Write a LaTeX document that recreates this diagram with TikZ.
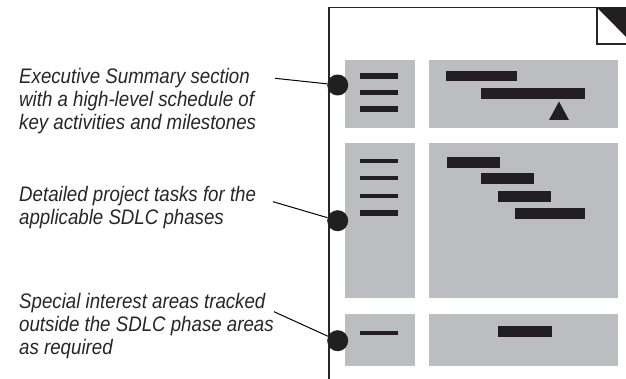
\documentclass[tikz,border=0pt]{standalone}
\usepackage{fontspec}
\setmainfont[FakeStretch=0.89]{Liberation Sans}
\usetikzlibrary{positioning}
\definecolor{panelgray}{RGB}{188,189,193}
\definecolor{inkblack}{RGB}{35,31,32}

\begin{document}
\begin{tikzpicture}[
  x=1pt, y=-1pt,
  % === Shape styles ===
  panel/.style={
    fill=panelgray, draw=none, inner sep=0pt, anchor=north west
  },
  bar/.style={fill=inkblack},
  listline/.style={inkblack, line width=4.5pt},
  dot/.style={circle, fill=inkblack, inner sep=0pt, minimum size=21pt},
  % === Line styles ===
  frame/.style={black!85, line width=1.4pt},
  leader/.style={black, line width=1pt},
  % === Text styles ===
  callout/.style={
    font=\fontsize{21}{23}\selectfont\itshape, text=black!85,
    align=left, anchor=north west, inner sep=0pt
  },
]
\useasboundingbox (0,0) rectangle (626,379);
\clip (0,0) rectangle (626,379);

% =============================================
% Page outline with folded corner
% =============================================
\draw[frame] (329,379) -- (329,7.5) -- (626,7.5);
\draw[frame] (597,7.5) -- (597,44) -- (633,44);
\fill[inkblack] (597,7.5) -- (633,7.5) -- (633,44) -- cycle;

% =============================================
% Row 1: Executive Summary
% =============================================
\node[panel, minimum width=70, minimum height=68] (sumlist) at (345,60) {};
\node[panel, minimum width=189, minimum height=68] (sumchart) at (429,60) {};
\foreach \y in {76,92.5,109}
  \draw[listline, line width=5.5pt] (360,\y) -- (398,\y);
\fill[bar] (446,71) rectangle (517,81.5);
\fill[bar] (481,88.5) rectangle (585,99);
\fill[inkblack] (549,120) -- (569,120) -- (559,101.5) -- cycle;

% =============================================
% Row 2: Detailed project tasks
% =============================================
\node[panel, minimum width=70, minimum height=154.5] (tasklist) at (345,143.3) {};
\node[panel, minimum width=189, minimum height=154.5] (taskchart) at (429,143.3) {};
\foreach \y in {160.7,178.3,196}
  \draw[listline, line width=4pt] (360,\y) -- (398,\y);
\draw[listline, line width=6pt] (360,213.3) -- (398,213.3);
\fill[bar] (447,157.3) rectangle (500,167.7);
\fill[bar] (481,173.3) rectangle (534,183.7);
\fill[bar] (498,191) rectangle (551,201.7);
\fill[bar] (515,208.3) rectangle (585,218.7);

% =============================================
% Row 3: Special interest areas
% =============================================
\node[panel, minimum width=70, minimum height=52] (speclist) at (345,314) {};
\node[panel, minimum width=189, minimum height=52] (specchart) at (429,314) {};
\draw[listline, line width=4pt] (360,332.7) -- (398,332.7);
\fill[bar] (498.3,326) rectangle (551.7,336.7);

% =============================================
% Callouts
% =============================================
\node[callout] (sumtext) at (19,67.7) {Executive Summary section\\with a high-level schedule of\\key activities and milestones};
\node[callout] (tasktext) at (19,185.7) {Detailed project tasks for the\\applicable SDLC phases};
\node[callout] (spectext) at (19,293.5) {Special interest areas tracked\\outside the SDLC phase areas\\as required};

\node[dot] (dot1) at (337.7,85) {};
\node[dot] (dot2) at (337.7,220.7) {};
\node[dot] (dot3) at (337.7,340.7) {};

\coordinate (lead1) at (275,78.3);
\coordinate (lead2) at (273,201.7);
\coordinate (lead3) at (274,311.7);

\draw[leader] (lead1) -- (dot1);
\draw[leader] (lead2) -- (dot2);
\draw[leader] (lead3) -- (dot3);

\end{tikzpicture}
\end{document}
